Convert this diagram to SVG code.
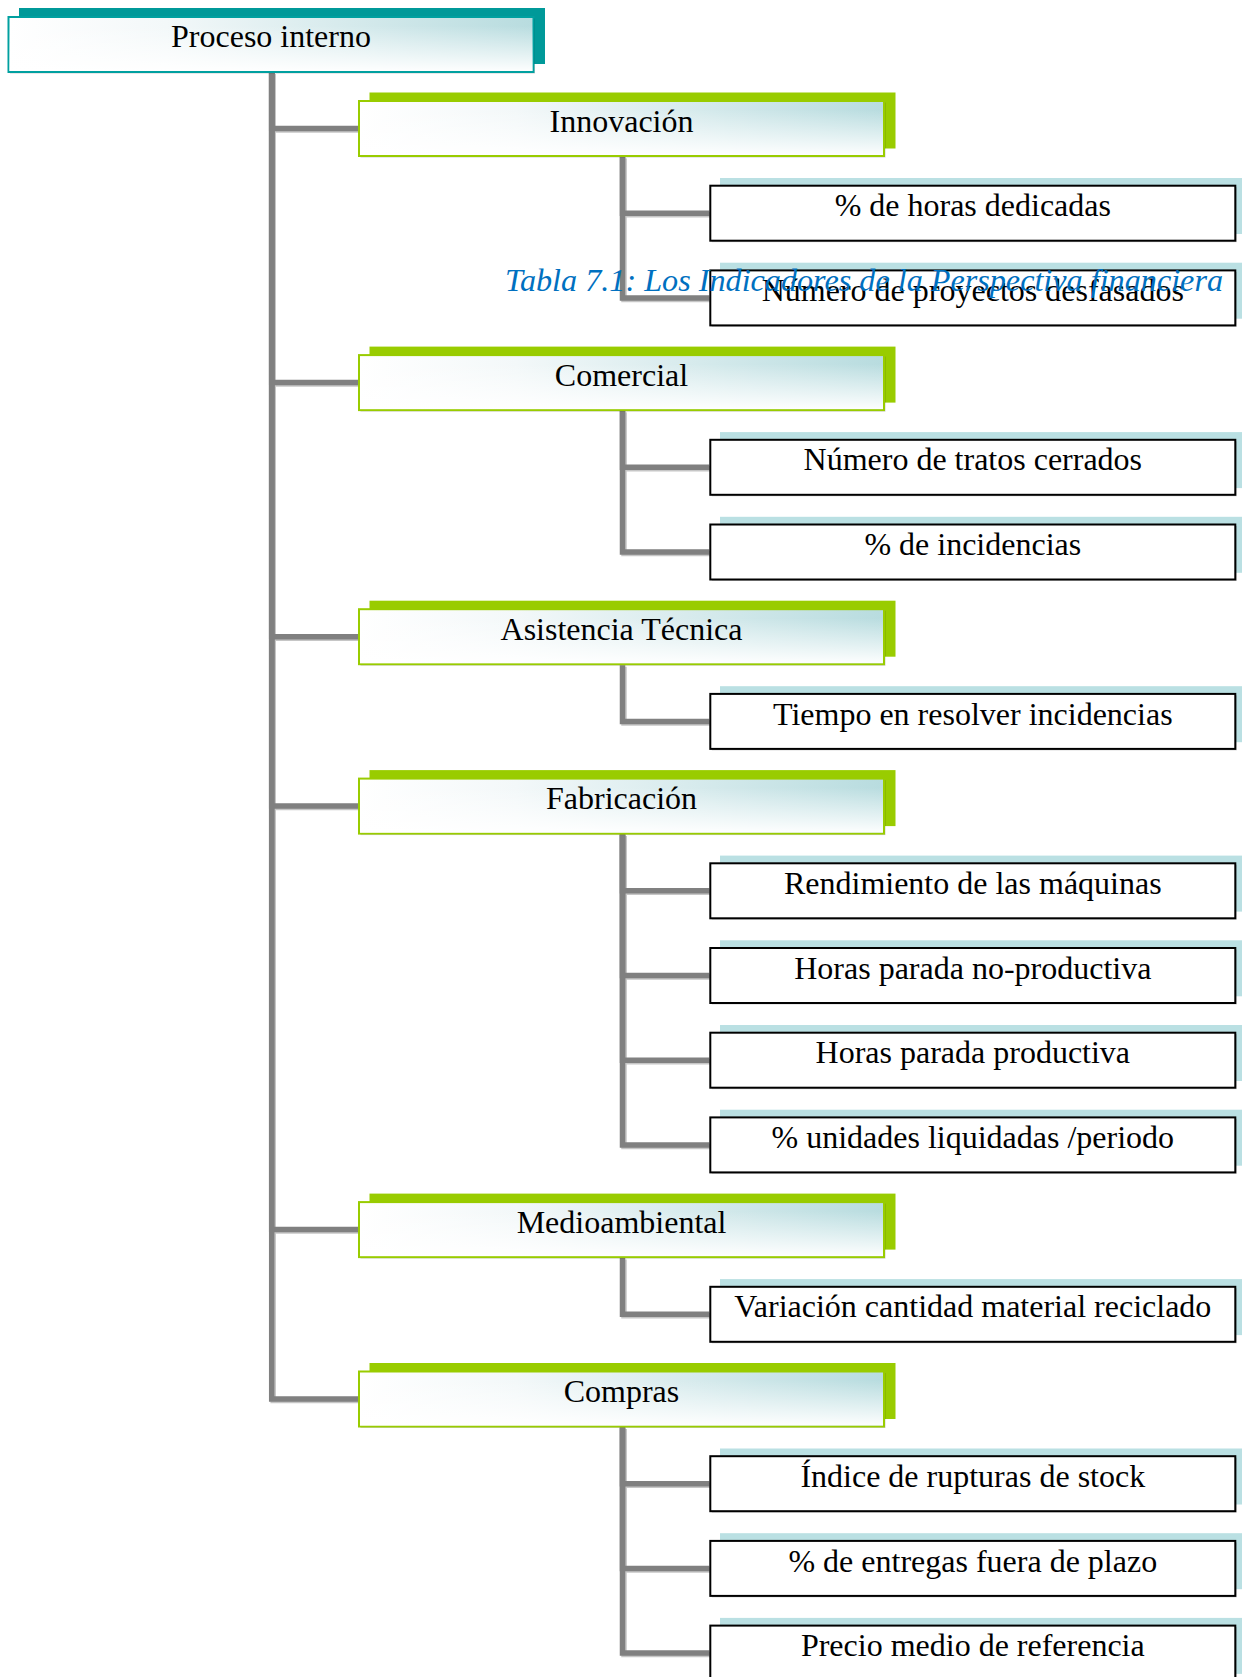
<svg xmlns="http://www.w3.org/2000/svg" xmlns:xlink="http://www.w3.org/1999/xlink" width="1242" height="1677" viewBox="0 0 1242 1677">
  <style>
    .lbl { font-family: "Liberation Serif", "Times New Roman", serif; font-size: 32px; fill: #000; text-anchor: middle; }
    .cap { font-family: "Liberation Serif", "Times New Roman", serif; font-size: 32px; font-style: italic; fill: #0070C0; }
    .sh-teal { fill: #009999; }
    .sh-green { fill: #99CC00; }
    .sh-blue { fill: #BAE0E3; }
    .drop { fill: #000; opacity: 0.18; }
    .body-teal { fill: url(#tint); stroke: #00A0A0; stroke-width: 2; }
    .body-green { fill: url(#tint); stroke: #99CC00; stroke-width: 2; }
    .body-plain { fill: #fff; stroke: #000; stroke-width: 2; }
    .fade { fill: url(#fade); }
  </style>
  <defs>
    <linearGradient id="tint" x1="0" y1="0" x2="1" y2="0">
      <stop offset="0" stop-color="#ffffff"/>
      <stop offset="0.3" stop-color="#f3f8f9"/>
      <stop offset="1" stop-color="#b8dcdf"/>
    </linearGradient>
    <linearGradient id="fade" x1="0" y1="0" x2="0" y2="1">
      <stop offset="0.15" stop-color="#ffffff" stop-opacity="0"/>
      <stop offset="1" stop-color="#ffffff" stop-opacity="0.97"/>
    </linearGradient>
    <!-- elbow wires: trunk from parent bottom, then across to child's left edge -->
    <g id="wires" fill="none" stroke-width="5.5">
      <path d="M271.7 73 V128.5 H358"/>
      <path d="M271.7 73 V382.6 H358"/>
      <path d="M271.7 73 V636.7 H358"/>
      <path d="M271.7 73 V806.1 H358"/>
      <path d="M271.7 73 V1229.6 H358"/>
      <path d="M271.7 73 V1399 H358"/>
      <path d="M622.5 157 V213.2 H709.3"/>
      <path d="M622.5 157 V297.9 H709.3"/>
      <path d="M622.5 411.1 V467.3 H709.3"/>
      <path d="M622.5 411.1 V552 H709.3"/>
      <path d="M622.5 665.2 V721.4 H709.3"/>
      <path d="M622.5 834.6 V890.8 H709.3"/>
      <path d="M622.5 834.6 V975.5 H709.3"/>
      <path d="M622.5 834.6 V1060.2 H709.3"/>
      <path d="M622.5 834.6 V1144.9 H709.3"/>
      <path d="M622.5 1258.1 V1314.3 H709.3"/>
      <path d="M622.5 1427.5 V1483.7 H709.3"/>
      <path d="M622.5 1427.5 V1568.4 H709.3"/>
      <path d="M622.5 1427.5 V1653.1 H709.3"/>
    </g>
  </defs>

  <g id="connectors">
    <use xlink:href="#wires" href="#wires" stroke="#c6c6c6" transform="translate(1.5,1.5)"/>
    <use xlink:href="#wires" href="#wires" stroke="#808080"/>
  </g>

  <!-- level 1 -->
  <g id="n-proceso" transform="translate(7.5,16)">
    <rect class="sh-teal" x="11.5" y="-8" width="526" height="56"/>
    <rect class="drop" x="2.5" y="2.5" width="525" height="55"/>
    <rect class="body-teal" x="1" y="1" width="525" height="55"/>
    <rect class="fade" x="2" y="2" width="523" height="53"/>
    <text class="lbl" x="263.5" y="30.7">Proceso interno</text>
  </g>

  <!-- level 2 -->
  <g id="n-innovacion" transform="translate(358,100)">
    <rect class="sh-green" x="11.5" y="-7.5" width="526" height="56"/>
    <rect class="drop" x="2.5" y="2.5" width="525" height="55"/>
    <rect class="body-green" x="1" y="1" width="525" height="55"/>
    <rect class="fade" x="2" y="2" width="523" height="53"/>
    <text class="lbl" x="263.5" y="31.7">Innovación</text>
  </g>
  <g id="n-comercial" transform="translate(358,354.1)">
    <rect class="sh-green" x="11.5" y="-7.5" width="526" height="56"/>
    <rect class="drop" x="2.5" y="2.5" width="525" height="55"/>
    <rect class="body-green" x="1" y="1" width="525" height="55"/>
    <rect class="fade" x="2" y="2" width="523" height="53"/>
    <text class="lbl" x="263.5" y="31.7">Comercial</text>
  </g>
  <g id="n-asistencia" transform="translate(358,608.2)">
    <rect class="sh-green" x="11.5" y="-7.5" width="526" height="56"/>
    <rect class="drop" x="2.5" y="2.5" width="525" height="55"/>
    <rect class="body-green" x="1" y="1" width="525" height="55"/>
    <rect class="fade" x="2" y="2" width="523" height="53"/>
    <text class="lbl" x="263.5" y="31.7">Asistencia Técnica</text>
  </g>
  <g id="n-fabricacion" transform="translate(358,777.6)">
    <rect class="sh-green" x="11.5" y="-7.5" width="526" height="56"/>
    <rect class="drop" x="2.5" y="2.5" width="525" height="55"/>
    <rect class="body-green" x="1" y="1" width="525" height="55"/>
    <rect class="fade" x="2" y="2" width="523" height="53"/>
    <text class="lbl" x="263.5" y="31.7">Fabricación</text>
  </g>
  <g id="n-medioambiental" transform="translate(358,1201.1)">
    <rect class="sh-green" x="11.5" y="-7.5" width="526" height="56"/>
    <rect class="drop" x="2.5" y="2.5" width="525" height="55"/>
    <rect class="body-green" x="1" y="1" width="525" height="55"/>
    <rect class="fade" x="2" y="2" width="523" height="53"/>
    <text class="lbl" x="263.5" y="31.7">Medioambiental</text>
  </g>
  <g id="n-compras" transform="translate(358,1370.5)">
    <rect class="sh-green" x="11.5" y="-7.5" width="526" height="56"/>
    <rect class="drop" x="2.5" y="2.5" width="525" height="55"/>
    <rect class="body-green" x="1" y="1" width="525" height="55"/>
    <rect class="fade" x="2" y="2" width="523" height="53"/>
    <text class="lbl" x="263.5" y="31.7">Compras</text>
  </g>

  <!-- level 3 -->
  <g id="n-horas-dedicadas" transform="translate(709.3,184.7)">
    <rect class="sh-blue" x="10.7" y="-6.7" width="526" height="56"/>
    <rect class="drop" x="2.5" y="2.5" width="525" height="55"/>
    <rect class="body-plain" x="1" y="1" width="525" height="55"/>
    <text class="lbl" x="263.5" y="31.7">% de horas dedicadas</text>
  </g>
  <g id="n-proyectos-desfasados" transform="translate(709.3,269.4)">
    <rect class="sh-blue" x="10.7" y="-6.7" width="526" height="56"/>
    <rect class="drop" x="2.5" y="2.5" width="525" height="55"/>
    <rect class="body-plain" x="1" y="1" width="525" height="55"/>
    <text class="lbl" x="263.5" y="31.7">Número de proyectos desfasados</text>
  </g>
  <g id="n-tratos-cerrados" transform="translate(709.3,438.8)">
    <rect class="sh-blue" x="10.7" y="-6.7" width="526" height="56"/>
    <rect class="drop" x="2.5" y="2.5" width="525" height="55"/>
    <rect class="body-plain" x="1" y="1" width="525" height="55"/>
    <text class="lbl" x="263.5" y="31.7">Número de tratos cerrados</text>
  </g>
  <g id="n-incidencias" transform="translate(709.3,523.5)">
    <rect class="sh-blue" x="10.7" y="-6.7" width="526" height="56"/>
    <rect class="drop" x="2.5" y="2.5" width="525" height="55"/>
    <rect class="body-plain" x="1" y="1" width="525" height="55"/>
    <text class="lbl" x="263.5" y="31.7">% de incidencias</text>
  </g>
  <g id="n-tiempo-resolver" transform="translate(709.3,692.9)">
    <rect class="sh-blue" x="10.7" y="-6.7" width="526" height="56"/>
    <rect class="drop" x="2.5" y="2.5" width="525" height="55"/>
    <rect class="body-plain" x="1" y="1" width="525" height="55"/>
    <text class="lbl" x="263.5" y="31.7">Tiempo en resolver incidencias</text>
  </g>
  <g id="n-rendimiento" transform="translate(709.3,862.3)">
    <rect class="sh-blue" x="10.7" y="-6.7" width="526" height="56"/>
    <rect class="drop" x="2.5" y="2.5" width="525" height="55"/>
    <rect class="body-plain" x="1" y="1" width="525" height="55"/>
    <text class="lbl" x="263.5" y="31.7">Rendimiento de las máquinas</text>
  </g>
  <g id="n-parada-no-productiva" transform="translate(709.3,947)">
    <rect class="sh-blue" x="10.7" y="-6.7" width="526" height="56"/>
    <rect class="drop" x="2.5" y="2.5" width="525" height="55"/>
    <rect class="body-plain" x="1" y="1" width="525" height="55"/>
    <text class="lbl" x="263.5" y="31.7">Horas parada no-productiva</text>
  </g>
  <g id="n-parada-productiva" transform="translate(709.3,1031.7)">
    <rect class="sh-blue" x="10.7" y="-6.7" width="526" height="56"/>
    <rect class="drop" x="2.5" y="2.5" width="525" height="55"/>
    <rect class="body-plain" x="1" y="1" width="525" height="55"/>
    <text class="lbl" x="263.5" y="31.7">Horas parada productiva</text>
  </g>
  <g id="n-unidades-liquidadas" transform="translate(709.3,1116.4)">
    <rect class="sh-blue" x="10.7" y="-6.7" width="526" height="56"/>
    <rect class="drop" x="2.5" y="2.5" width="525" height="55"/>
    <rect class="body-plain" x="1" y="1" width="525" height="55"/>
    <text class="lbl" x="263.5" y="31.7">% unidades liquidadas /periodo</text>
  </g>
  <g id="n-material-reciclado" transform="translate(709.3,1285.8)">
    <rect class="sh-blue" x="10.7" y="-6.7" width="526" height="56"/>
    <rect class="drop" x="2.5" y="2.5" width="525" height="55"/>
    <rect class="body-plain" x="1" y="1" width="525" height="55"/>
    <text class="lbl" x="263.5" y="31.7">Variación cantidad material reciclado</text>
  </g>
  <g id="n-rupturas-stock" transform="translate(709.3,1455.2)">
    <rect class="sh-blue" x="10.7" y="-6.7" width="526" height="56"/>
    <rect class="drop" x="2.5" y="2.5" width="525" height="55"/>
    <rect class="body-plain" x="1" y="1" width="525" height="55"/>
    <text class="lbl" x="263.5" y="31.7">Índice de rupturas de stock</text>
  </g>
  <g id="n-entregas-fuera-plazo" transform="translate(709.3,1539.9)">
    <rect class="sh-blue" x="10.7" y="-6.7" width="526" height="56"/>
    <rect class="drop" x="2.5" y="2.5" width="525" height="55"/>
    <rect class="body-plain" x="1" y="1" width="525" height="55"/>
    <text class="lbl" x="263.5" y="31.7">% de entregas fuera de plazo</text>
  </g>
  <g id="n-precio-medio" transform="translate(709.3,1624.6)">
    <rect class="sh-blue" x="10.7" y="-6.7" width="526" height="56"/>
    <rect class="drop" x="2.5" y="2.5" width="525" height="55"/>
    <rect class="body-plain" x="1" y="1" width="525" height="55"/>
    <text class="lbl" x="263.5" y="31.7">Precio medio de referencia</text>
  </g>

  <!-- caption laid over the chart -->
  <text id="caption" class="cap" x="505" y="290.7" textLength="718" lengthAdjust="spacingAndGlyphs">Tabla 7.1: Los Indicadores de la Perspectiva financiera</text>
</svg>
